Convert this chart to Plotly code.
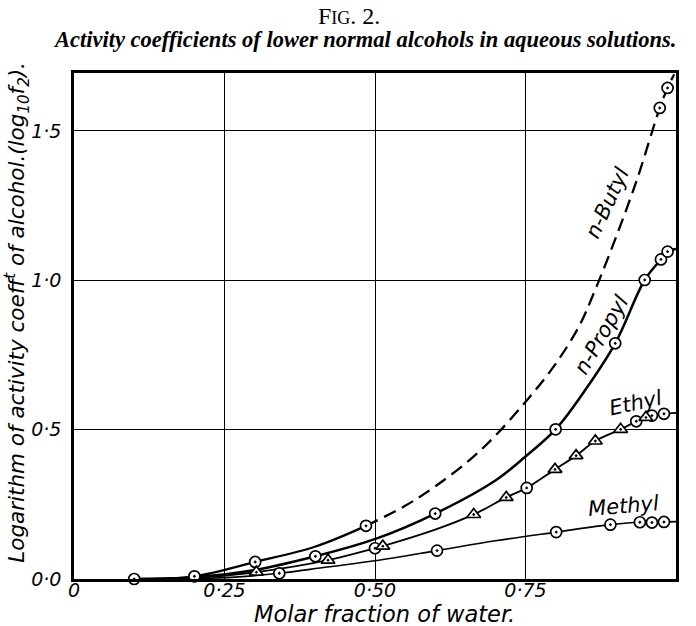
import plotly.graph_objects as go

# ---------------- data ----------------
# smooth curves (solid parts)
butyl_solid_x = [0.10, 0.20, 0.301, 0.40, 0.485]
butyl_solid_y = [0.000, 0.009, 0.057, 0.108, 0.178]
# dashed (extrapolated) part of n-Butyl
butyl_dash_x = [0.485, 0.55, 0.60, 0.657, 0.70, 0.753, 0.80, 0.84, 0.862, 0.89, 0.934, 0.973, 0.986, 0.997]
butyl_dash_y = [0.178, 0.245, 0.31, 0.398, 0.48, 0.60, 0.72, 0.85, 0.95, 1.09, 1.33, 1.577, 1.644, 1.69]

propyl_x = [0.10, 0.20, 0.30, 0.401, 0.502, 0.60, 0.70, 0.75, 0.80, 0.85, 0.899, 0.948, 0.975, 0.986, 1.0]
propyl_y = [0.000, 0.006, 0.030, 0.076, 0.135, 0.219, 0.33, 0.41, 0.501, 0.635, 0.789, 1.001, 1.070, 1.096, 1.105]

ethyl_x = [0.10, 0.20, 0.303, 0.422, 0.50, 0.513, 0.60, 0.664, 0.718, 0.752, 0.799, 0.834, 0.866, 0.908, 0.934, 0.950, 0.960, 0.980, 1.0]
ethyl_y = [0.000, 0.004, 0.023, 0.063, 0.103, 0.110, 0.165, 0.216, 0.273, 0.305, 0.367, 0.413, 0.462, 0.501, 0.528, 0.541, 0.547, 0.553, 0.556]

methyl_x = [0.10, 0.20, 0.28, 0.341, 0.42, 0.50, 0.603, 0.70, 0.801, 0.891, 0.940, 0.960, 0.980, 1.0]
methyl_y = [0.000, 0.001, 0.008, 0.019, 0.040, 0.061, 0.095, 0.128, 0.157, 0.182, 0.190, 0.189, 0.191, 0.192]

# measured points
butyl_pts_x = [0.10, 0.20, 0.301, 0.485, 0.973, 0.986]
butyl_pts_y = [0.000, 0.009, 0.057, 0.178, 1.577, 1.644]
propyl_pts_x = [0.401, 0.600, 0.800, 0.899, 0.948, 0.975, 0.986]
propyl_pts_y = [0.076, 0.219, 0.501, 0.789, 1.001, 1.070, 1.096]
ethyl_circ_x = [0.50, 0.752, 0.934, 0.960, 0.980]
ethyl_circ_y = [0.103, 0.305, 0.528, 0.547, 0.553]
ethyl_tri_x = [0.303, 0.422, 0.513, 0.664, 0.718, 0.799, 0.834, 0.866, 0.908, 0.950]
ethyl_tri_y = [0.023, 0.063, 0.110, 0.216, 0.273, 0.367, 0.413, 0.462, 0.501, 0.541]
methyl_pts_x = [0.341, 0.603, 0.801, 0.891, 0.940, 0.960, 0.980]
methyl_pts_y = [0.019, 0.095, 0.157, 0.182, 0.190, 0.189, 0.191]

x_tickvals = [0, 0.25, 0.5, 0.75, 1.0]
x_ticktext = ["0", "0·25", "0·50", "0·75", "1·00"]
y_tickvals = [0, 0.5, 1.0, 1.5]
y_ticktext = ["0·0", "0·5", "1·0", "1·5"]

labels = ["n-Butyl", "n-Propyl", "Ethyl", "Methyl"]
label_x = [0.886, 0.876, 0.933, 0.913]
label_y = [1.258, 0.817, 0.588, 0.243]
label_angle = [-65, -60, -12, -5]

HAND = "DejaVu Sans"
SERIF = "Liberation Serif"

fig = go.Figure()

def curve(x, y, width, dash="solid"):
    fig.add_trace(go.Scatter(x=x, y=y, mode="lines",
                             line=dict(color="black", width=width, shape="spline", dash=dash),
                             cliponaxis=False, hoverinfo="skip", showlegend=False))

curve(butyl_solid_x, butyl_solid_y, 2.3)
curve(butyl_dash_x, butyl_dash_y, 2.3, dash="13px,7px")
curve(propyl_x, propyl_y, 2.5)
curve(ethyl_x, ethyl_y, 1.9)
curve(methyl_x, methyl_y, 1.6)

def points(x, y, symbol, size=11):
    fig.add_trace(go.Scatter(x=x, y=y, mode="markers",
                             marker=dict(symbol=symbol, size=size, color="white",
                                         line=dict(color="black", width=1.7)),
                             cliponaxis=False, hoverinfo="skip", showlegend=False))

points(butyl_pts_x, butyl_pts_y, "circle-dot")
points(propyl_pts_x, propyl_pts_y, "circle-dot")
points(ethyl_circ_x, ethyl_circ_y, "circle-dot")
points(ethyl_tri_x, ethyl_tri_y, "triangle-up-dot", size=12)
points(methyl_pts_x, methyl_pts_y, "circle-dot")

for t, lx, ly, ang in zip(labels, label_x, label_y, label_angle):
    fig.add_annotation(x=lx, y=ly, text=t, showarrow=False, textangle=ang,
                       xanchor="center", yanchor="middle",
                       font=dict(family=HAND, size=21, color="black", style="italic"))

# titles
fig.add_annotation(xref="paper", yref="paper", x=0.457, y=1.112, xanchor="center", yanchor="middle",
                   text="F<span style='font-size:18px'>IG</span>. 2.",
                   showarrow=False, font=dict(family=SERIF, size=24, color="black"))
fig.add_annotation(xref="paper", yref="paper", x=0.484, y=1.066, xanchor="center", yanchor="middle",
                   text="Activity coefficients of lower normal alcohols in aqueous solutions.",
                   showarrow=False, font=dict(family=SERIF, size=22.5, color="black", style="italic", weight="bold"))
fig.add_annotation(xref="paper", yref="paper", x=0.516, y=-0.070, xanchor="center", yanchor="middle",
                   text="Molar fraction of water.", showarrow=False,
                   font=dict(family=HAND, size=22.5, color="black", style="italic"))
fig.add_annotation(xref="paper", yref="paper", x=-0.094, y=0.527, xanchor="center", yanchor="middle",
                   textangle=-90,
                   text="Logarithm of activity coeff<sup>t</sup> of alcohol.(log<sub>10</sub>f<sub>2</sub>).",
                   showarrow=False, font=dict(family=HAND, size=21.5, color="black", style="italic"))

axis_common = dict(showline=True, linecolor="black", linewidth=2.5, mirror=True,
                   showgrid=True, gridcolor="black", gridwidth=1.2, zeroline=False,
                   ticks="", tickfont=dict(family=HAND, size=19, color="black", style="italic"))
fig.update_xaxes(range=[0, 1.0], tickvals=x_tickvals, ticktext=x_ticktext,
                 ticklabelstandoff=-8, **axis_common)
fig.update_yaxes(range=[0, 1.694], tickvals=y_tickvals, ticktext=y_ticktext,
                 ticklabelstandoff=6, **axis_common)

fig.update_layout(width=696, height=626, margin=dict(l=74, r=20, t=73, b=47),
                  paper_bgcolor="white", plot_bgcolor="white")

fig.write_html("out.html")
